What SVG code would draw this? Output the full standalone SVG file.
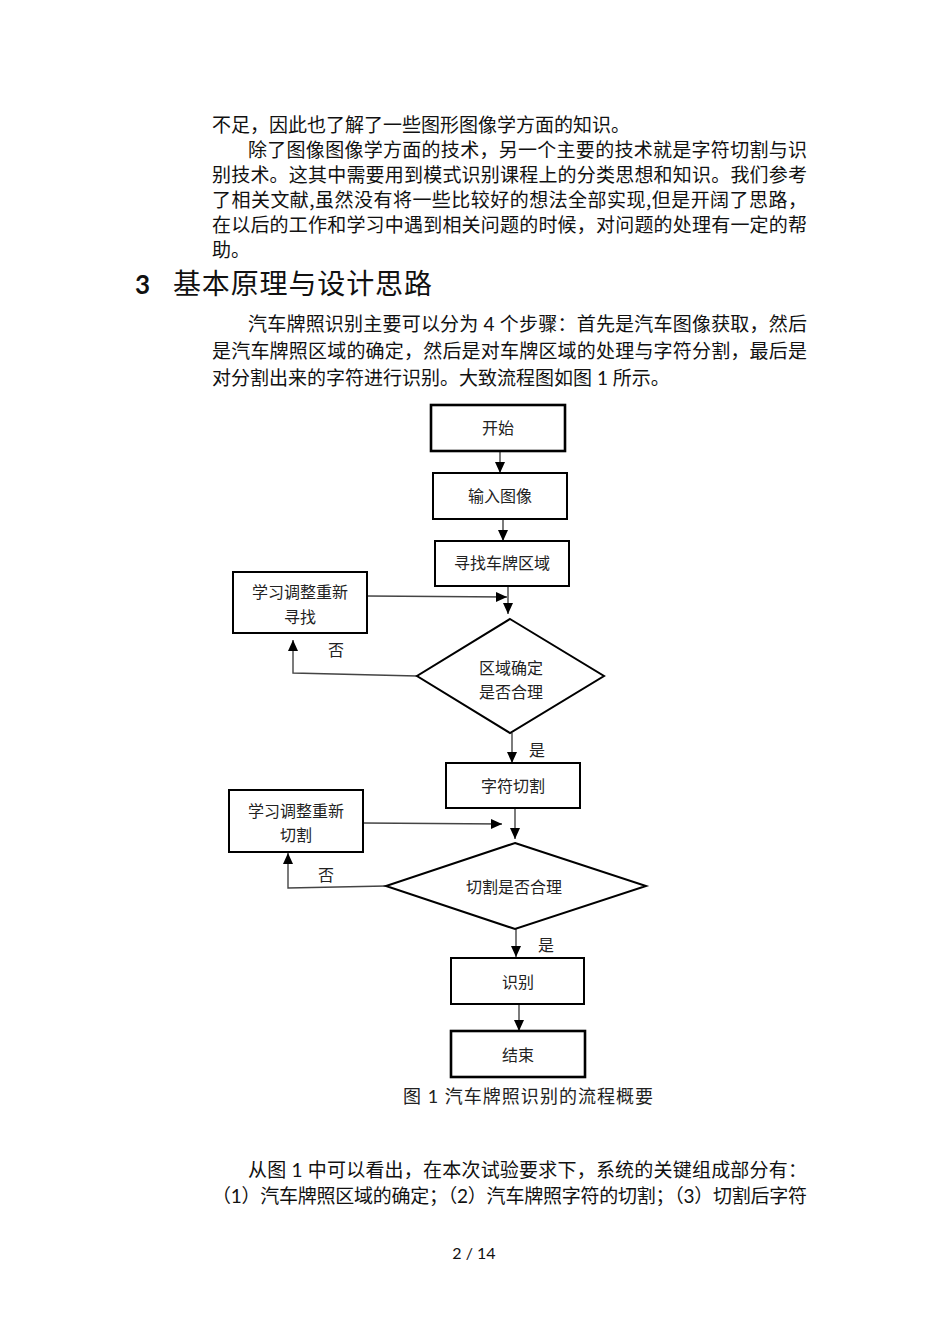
<svg xmlns="http://www.w3.org/2000/svg" width="950" height="1344" viewBox="0 0 950 1344">
<style>
.p{font-family:"Noto Sans CJK SC","Noto Sans",sans-serif;font-size:19px;fill:#111;}
.lat{font-family:Lato,"Liberation Sans",sans-serif;}
.h{font-family:"Noto Sans CJK SC",sans-serif;font-size:28px;fill:#111;}
.hn{font-family:Lato,"Liberation Sans",sans-serif;font-weight:bold;font-size:26px;fill:#111;}
.n{font-family:"Noto Sans CJK SC","Noto Sans",sans-serif;font-size:16px;fill:#222;text-anchor:middle;}
.box{fill:#fff;stroke:#000;stroke-width:2;}
.thick{stroke-width:2.6;}
.con{fill:none;stroke:#444;stroke-width:1.4;}
.cap{font-family:"Noto Sans CJK SC","Noto Sans",sans-serif;font-size:18px;fill:#222;}
</style>
<defs>
<marker id="ah" markerUnits="userSpaceOnUse" markerWidth="12" markerHeight="12" viewBox="0 0 12 12" refX="11" refY="6" orient="auto">
<path d="M0,1 L11,6 L0,11 Z" fill="#000"/>
</marker>
</defs>
<rect width="950" height="1344" fill="#fff"/>

<g id="text-top">
<text class="p" x="212" y="132">不足，因此也了解了一些图形图像学方面的知识。</text>
<text class="p" x="248" y="157" textLength="559" lengthAdjust="spacing">除了图像图像学方面的技术，另一个主要的技术就是字符切割与识</text>
<text class="p" x="212" y="182" textLength="595" lengthAdjust="spacing">别技术。这其中需要用到模式识别课程上的分类思想和知识。我们参考</text>
<text class="p" x="212" y="207" textLength="595" lengthAdjust="spacing">了相关文献,虽然没有将一些比较好的想法全部实现,但是开阔了思路，</text>
<text class="p" x="212" y="232" textLength="595" lengthAdjust="spacing">在以后的工作和学习中遇到相关问题的时候，对问题的处理有一定的帮</text>
<text class="p" x="212" y="257">助。</text>
</g>

<g id="heading">
<text class="hn" x="135" y="294">3</text>
<text class="h" x="173" y="294" textLength="259" lengthAdjust="spacing">基本原理与设计思路</text>
</g>

<g id="text-intro">
<text class="p" x="248" y="331" textLength="559" lengthAdjust="spacing">汽车牌照识别主要可以分为<tspan class="lat"> 4 </tspan>个步骤：首先是汽车图像获取，然后</text>
<text class="p" x="212" y="358" textLength="595" lengthAdjust="spacing">是汽车牌照区域的确定，然后是对车牌区域的处理与字符分割，最后是</text>
<text class="p" x="212" y="385">对分割出来的字符进行识别。大致流程图如图<tspan class="lat"> 1 </tspan>所示。</text>
</g>

<g id="connectors">
<line class="con" x1="500" y1="451" x2="500" y2="473" marker-end="url(#ah)"/>
<line class="con" x1="503" y1="519" x2="503" y2="541" marker-end="url(#ah)"/>
<line class="con" x1="508" y1="586" x2="508" y2="614" marker-end="url(#ah)"/>
<line class="con" x1="367" y1="596" x2="507" y2="597" marker-end="url(#ah)"/>
<polyline class="con" points="417,676 293,673 293,640" marker-end="url(#ah)"/>
<line class="con" x1="512" y1="733" x2="512" y2="763" marker-end="url(#ah)"/>
<line class="con" x1="515" y1="808" x2="515" y2="839" marker-end="url(#ah)"/>
<line class="con" x1="363" y1="823" x2="502" y2="824" marker-end="url(#ah)"/>
<polyline class="con" points="386,886 288,888 288,853" marker-end="url(#ah)"/>
<line class="con" x1="516" y1="929" x2="516" y2="957" marker-end="url(#ah)"/>
<line class="con" x1="519" y1="1004" x2="519" y2="1031" marker-end="url(#ah)"/>
<text class="n" x="336" y="656">否</text>
<text class="n" x="537" y="756">是</text>
<text class="n" x="326" y="881">否</text>
<text class="n" x="546" y="951">是</text>
</g>

<g id="start">
<rect class="box thick" x="431" y="405" width="134" height="46"/>
<text class="n" x="498" y="434">开始</text>
</g>
<g id="input">
<rect class="box" x="433" y="473" width="134" height="46"/>
<text class="n" x="500" y="502">输入图像</text>
</g>
<g id="find">
<rect class="box" x="435" y="541" width="134" height="45"/>
<text class="n" x="502" y="569">寻找车牌区域</text>
</g>
<g id="relearn1">
<rect class="box" x="233" y="572" width="134" height="61"/>
<text class="n" x="300" y="598">学习调整重新</text>
<text class="n" x="300" y="623">寻找</text>
</g>
<g id="decision1">
<polygon class="box" points="510,619 604,676 510,733 417,676"/>
<text class="n" x="511" y="674">区域确定</text>
<text class="n" x="511" y="698">是否合理</text>
</g>
<g id="cut">
<rect class="box" x="446" y="763" width="134" height="45"/>
<text class="n" x="513" y="792">字符切割</text>
</g>
<g id="relearn2">
<rect class="box" x="229" y="790" width="134" height="62"/>
<text class="n" x="296" y="817">学习调整重新</text>
<text class="n" x="296" y="841">切割</text>
</g>
<g id="decision2">
<polygon class="box" points="515,843 646,886 515,929 386,886"/>
<text class="n" x="514" y="893">切割是否合理</text>
</g>
<g id="recognize">
<rect class="box" x="451" y="958" width="133" height="46"/>
<text class="n" x="518" y="988">识别</text>
</g>
<g id="end">
<rect class="box thick" x="451" y="1031" width="134" height="46"/>
<text class="n" x="518" y="1061">结束</text>
</g>

<g id="caption">
<text class="cap" x="403" y="1103" textLength="250" lengthAdjust="spacing">图<tspan class="lat"> 1 </tspan> 汽车牌照识别的流程概要</text>
</g>

<g id="text-bottom">
<text class="p" x="248" y="1177" textLength="559" lengthAdjust="spacing">从图<tspan class="lat">  1  </tspan>中可以看出，在本次试验要求下，系统的关键组成部分有：</text>
<text class="p" x="212" y="1203" textLength="595" lengthAdjust="spacing">（<tspan class="lat">1</tspan>）汽车牌照区域的确定；（<tspan class="lat">2</tspan>）汽车牌照字符的切割；（<tspan class="lat">3</tspan>）切割后字符</text>
</g>

<g id="page-number">
<text x="474" y="1259" text-anchor="middle" style="font-family:Lato,'Liberation Sans',sans-serif;font-size:16px;fill:#111">2  /  14</text>
</g>
</svg>
